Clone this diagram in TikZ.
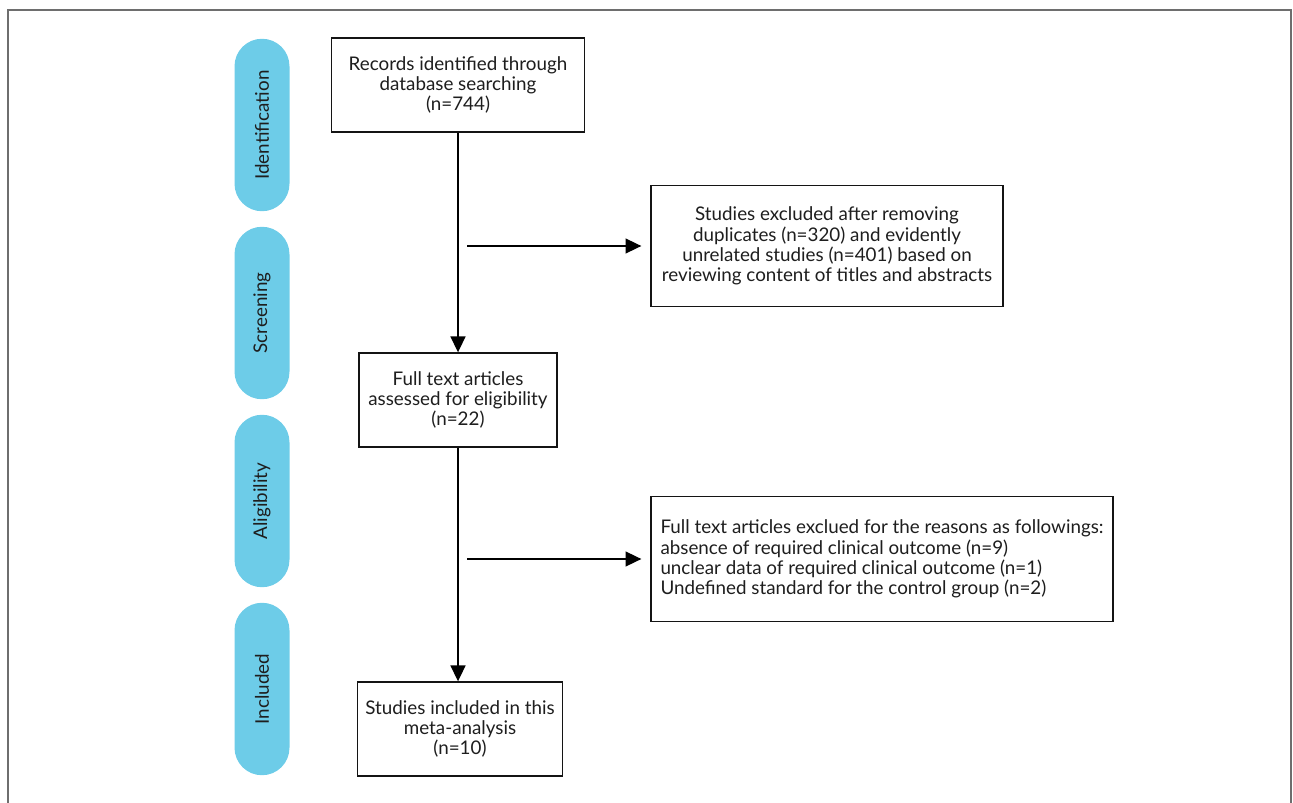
\documentclass[tikz,border=0pt]{standalone}
\usepackage{fontspec}
\setmainfont{Lato}
\usetikzlibrary{arrows.meta}
\begin{document}
\begin{tikzpicture}[x=0.02cm,y=-0.02cm,font=\fontsize{10.7}{11.5}\selectfont]

\definecolor{def_node_fill}{RGB}{255,255,255}
\definecolor{def_node_text}{RGB}{30,30,30}
\definecolor{def_node_draw}{RGB}{20,20,20}
\definecolor{phase_fill}{RGB}{109,204,232}
\definecolor{frame_draw}{RGB}{110,110,110}
\tikzstyle{default_node_style}=[draw=def_node_draw,fill=def_node_fill,text=def_node_text,line width = 0.8pt,align=center,inner sep=2pt]
\tikzstyle{phase_node_style}=[fill=phase_fill,text=def_node_text,rounded corners = 0.55cm,minimum width=3.45cm,minimum height=1.1cm,rotate=90]

\definecolor{def_edge_draw}{RGB}{0,0,0}
\tikzstyle{default_edge_style}=[draw=def_edge_draw, line width = 0.8pt,-{Triangle[length=9pt,width=8.5pt]}]

\useasboundingbox (0,0) rectangle (1293,803);
\draw[frame_draw,line width=1pt] (8,803) -- (8,10) -- (1291,10) -- (1291,803);

\node(identification) at (262,125) [phase_node_style] {Identification};

\node(screening) at (262,313) [phase_node_style] {Screening};

\node(aligibility) at (262,501) [phase_node_style] {Aligibility};

\node(included) at (262,689) [phase_node_style] {Included};

\node(records) at (458,85) [rectangle,minimum width=5.06cm,minimum height=1.88cm,default_node_style] {Records identified through\\database searching\\(n=744)};

\node(fulltext) at (458,400) [rectangle,minimum width=3.96cm,minimum height=1.88cm,default_node_style] {Full text articles\\assessed for eligibility\\(n=22)};

\node(studies) at (460,729) [rectangle,minimum width=4.1cm,minimum height=1.88cm,default_node_style] {Studies included in this\\meta-analysis\\(n=10)};

\node(duplicates) at (827,246) [rectangle,minimum width=7.04cm,minimum height=2.42cm,default_node_style] {Studies excluded after removing\\duplicates (n=320) and evidently\\unrelated studies (n=401) based on\\reviewing content of titles and abstracts};

\node(reasons) at (882,559) [rectangle,minimum width=9.24cm,minimum height=2.5cm,default_node_style,align=left] {Full text articles exclued for the reasons as followings:\\absence of required clinical outcome (n=9)\\unclear data of required clinical outcome (n=1)\\Undefined standard for the control group (n=2)};

\coordinate(split1) at (467,246);
\coordinate(split2) at (467,559);

\draw[default_edge_style](records.south) -- (records.south |- fulltext.north);
\draw[default_edge_style](fulltext.south) -- (fulltext.south |- studies.north);
\draw[default_edge_style,shorten >=0.18cm](split1) -- (duplicates.west);
\draw[default_edge_style,shorten >=0.18cm](split2) -- (reasons.west);

\end{tikzpicture}
\end{document}
